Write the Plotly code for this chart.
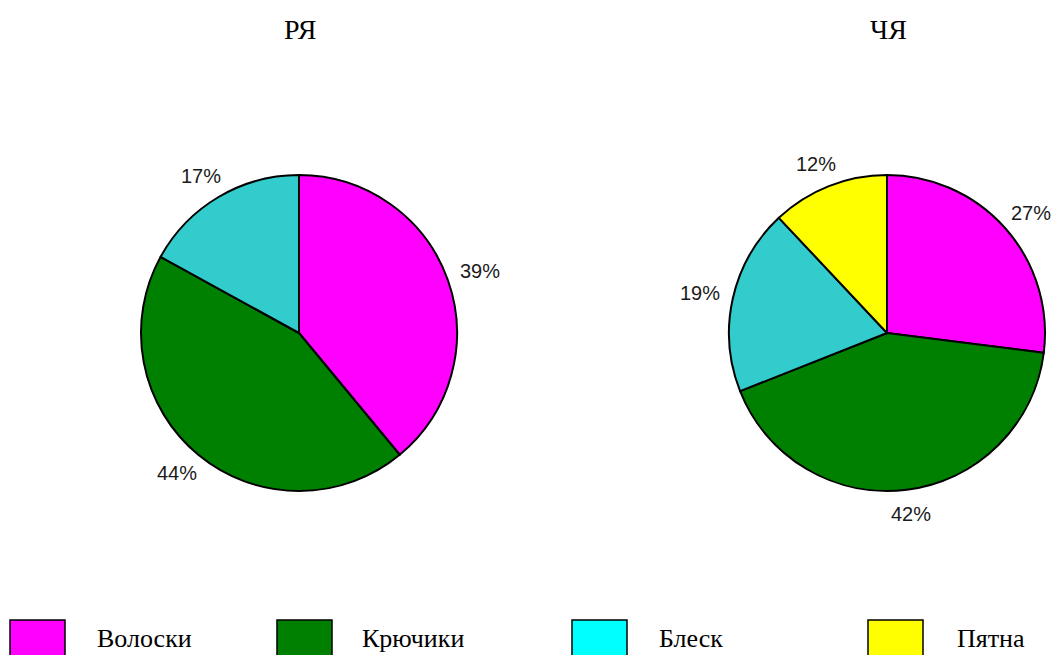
import math
import plotly.graph_objects as go

# Categories and shares (%) for the two groups
categories = ["Волоски", "Крючики", "Блеск", "Пятна"]
ry_values = [39, 44, 17, 0]
chy_values = [27, 42, 19, 12]
titles = ["РЯ", "ЧЯ"]

slice_colors = ["#FF00FF", "#008000", "#33CCCC", "#FFFF00"]
legend_colors = ["#FF00FF", "#008000", "#00FFFF", "#FFFF00"]

W, H = 1055, 655
PIE_R = 158          # pie radius, px
LABEL_GAP = 14       # gap between the rim and the near side of a label, px
LABEL_HALF_W = 20    # half width of a percentage label, px
LABEL_HALF_H = 10    # half height of a percentage label, px


def px_x(x):
    return x / W


def px_y(y):
    return 1 - y / H


fig = go.Figure()

pie_centres = [(299, 333), (887, 333)]
for vals, (cx, cy) in zip([ry_values, chy_values], pie_centres):
    cats = [c for c, v in zip(categories, vals) if v > 0]
    cols = [c for c, v in zip(slice_colors, vals) if v > 0]
    vv = [v for v in vals if v > 0]
    fig.add_trace(go.Pie(
        labels=cats,
        values=vv,
        sort=False,
        direction="clockwise",
        rotation=0,
        marker=dict(colors=cols, line=dict(color="black", width=2)),
        textinfo="none",
        domain=dict(x=[px_x(cx - PIE_R), px_x(cx + PIE_R)],
                    y=[px_y(cy + PIE_R), px_y(cy - PIE_R)]),
        showlegend=False,
        hoverinfo="label+percent",
    ))

    # percentage labels placed outside each slice, at its mid-angle
    total = sum(vv)
    cum = 0
    for v in vv:
        mid = (cum + v / 2) / total * 2 * math.pi
        cum += v
        s, c = math.sin(mid), math.cos(mid)
        lx = cx + (PIE_R + LABEL_GAP + LABEL_HALF_W) * s
        ly = cy - (PIE_R + LABEL_GAP + LABEL_HALF_H) * c
        fig.add_annotation(
            x=px_x(lx), y=px_y(ly), xref="paper", yref="paper",
            text=f"{round(v / total * 100)}%", showarrow=False,
            xanchor="center", yanchor="middle",
            font=dict(family="Liberation Sans, Arial", size=20, color="#1a1a1a"),
        )

# Group titles above each pie
for t, (cx, cy) in zip(titles, pie_centres):
    fig.add_annotation(
        x=px_x(cx + 1), y=px_y(29), xref="paper", yref="paper",
        text=t, showarrow=False, xanchor="center", yanchor="middle",
        font=dict(family="Liberation Serif, Times New Roman", size=28, color="black"),
    )

# Legend row along the bottom edge
legend_box_x = [10, 277, 572, 868]
legend_text_x = [95, 360, 657, 955]
for cat, col, bx, tx in zip(categories, legend_colors, legend_box_x, legend_text_x):
    fig.add_shape(
        type="rect", xref="paper", yref="paper",
        x0=px_x(bx), x1=px_x(bx + 55), y0=px_y(620), y1=px_y(670),
        fillcolor=col, line=dict(color="black", width=1.5),
    )
    fig.add_annotation(
        x=px_x(tx), y=px_y(638), xref="paper", yref="paper",
        text=cat, showarrow=False, xanchor="left", yanchor="middle",
        font=dict(family="Liberation Serif, Times New Roman", size=26, color="black"),
    )

fig.update_layout(
    width=W, height=H,
    margin=dict(l=0, r=0, t=0, b=0),
    paper_bgcolor="white",
    plot_bgcolor="white",
)

fig.write_html("out.html")
